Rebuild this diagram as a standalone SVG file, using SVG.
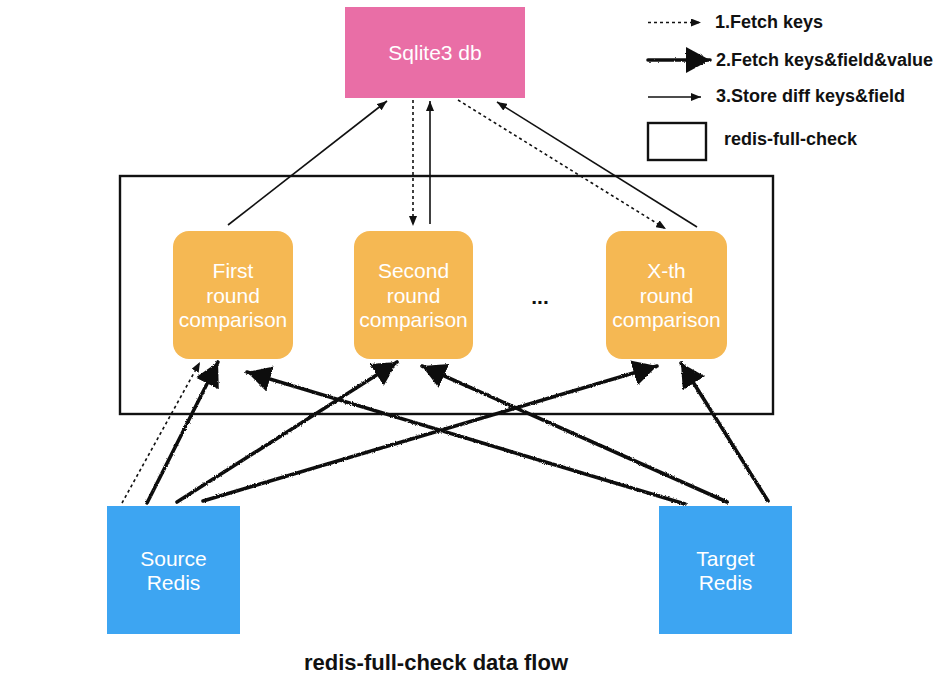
<svg xmlns="http://www.w3.org/2000/svg" width="938" height="680" viewBox="0 0 938 680">
<style>
.lbl{font-family:"Liberation Sans",Arial,sans-serif;font-size:21px;fill:#ffffff;text-anchor:middle}
.leg{font-family:"Liberation Sans",Arial,sans-serif;font-size:18px;font-weight:bold;fill:#111111}
.thin{fill:none;stroke:#111111;stroke-width:1.6}
.dot{fill:none;stroke:#111111;stroke-width:1.6;stroke-dasharray:3,3}
.heavy{fill:none;stroke:#111111;stroke-width:3.6;stroke-linecap:round}
</style>
<defs>
<filter id="rough" filterUnits="userSpaceOnUse" x="0" y="0" width="938" height="680">
<feTurbulence type="fractalNoise" baseFrequency="0.9" numOctaves="2" seed="3" result="n"/>
<feDisplacementMap in="SourceGraphic" in2="n" scale="2.5" xChannelSelector="R" yChannelSelector="G"/>
</filter>
<marker id="ah" viewBox="0 0 10 8" refX="10" refY="4" markerWidth="10" markerHeight="8" markerUnits="userSpaceOnUse" orient="auto">
<path d="M0,0 L10,4 L0,8 z" fill="#111111"/>
</marker>
<marker id="hh" viewBox="0 0 24 26" refX="24" refY="13" markerWidth="24" markerHeight="26" markerUnits="userSpaceOnUse" orient="auto">
<path d="M0,0 L24,13 L0,26 z" fill="#111111"/>
</marker>
</defs>
<rect id="container" x="120" y="176" width="653" height="238" fill="none" stroke="#111111" stroke-width="2.4"/>
<g id="sqlite">
<rect x="345" y="7" width="180" height="91" fill="#E96EA6"/>
<text class="lbl" x="435" y="60">Sqlite3 db</text>
</g>
<g id="first">
<rect x="173" y="231" width="120" height="128" rx="16" fill="#F5B853"/>
<text class="lbl" x="233" y="278">First</text>
<text class="lbl" x="233" y="303">round</text>
<text class="lbl" x="233" y="327">comparison</text>
</g>
<g id="second">
<rect x="354" y="231" width="119" height="128" rx="16" fill="#F5B853"/>
<text class="lbl" x="413.5" y="278">Second</text>
<text class="lbl" x="413.5" y="303">round</text>
<text class="lbl" x="413.5" y="327">comparison</text>
</g>
<text id="ellipsis" x="540" y="304" font-family="Liberation Sans,Arial,sans-serif" font-size="21" font-weight="bold" fill="#111111" text-anchor="middle">...</text>
<g id="xth">
<rect x="606" y="231" width="121" height="128" rx="16" fill="#F5B853"/>
<text class="lbl" x="666.5" y="278">X-th</text>
<text class="lbl" x="666.5" y="303">round</text>
<text class="lbl" x="666.5" y="327">comparison</text>
</g>
<g id="source">
<rect x="107" y="506" width="133" height="128" fill="#3DA5F2"/>
<text class="lbl" x="173.5" y="566">Source</text>
<text class="lbl" x="173.5" y="590">Redis</text>
</g>
<g id="target">
<rect x="659" y="506" width="133" height="128" fill="#3DA5F2"/>
<text class="lbl" x="725.5" y="566">Target</text>
<text class="lbl" x="725.5" y="590">Redis</text>
</g>
<g id="connectors">
<path class="thin" d="M228,225 L387,101" marker-end="url(#ah)"/>
<path class="dot" d="M413,100 L413,226" marker-end="url(#ah)"/>
<path class="thin" d="M430,224 L430,101" marker-end="url(#ah)"/>
<path class="dot" d="M458,100 L666,229" marker-end="url(#ah)"/>
<path class="thin" d="M697,227 L497,102" marker-end="url(#ah)"/>
<path class="dot" d="M122,503 L200,362" marker-end="url(#ah)"/>
<g filter="url(#rough)">
<path class="heavy" d="M147,503 L218,362" marker-end="url(#hh)"/>
<path class="heavy" d="M177,502 L397,362" marker-end="url(#hh)"/>
<path class="heavy" d="M203,501 L657,366" marker-end="url(#hh)"/>
<path class="heavy" d="M685,504 L247,372" marker-end="url(#hh)"/>
<path class="heavy" d="M727,502 L422,366" marker-end="url(#hh)"/>
<path class="heavy" d="M768,501 L681,363" marker-end="url(#hh)"/>
</g>
</g>
<g id="legend">
<path class="dot" d="M648,22.5 L701,22.5" marker-end="url(#ah)"/>
<text class="leg" x="715" y="28">1.Fetch keys</text>
<g filter="url(#rough)">
<path class="heavy" d="M648,60 L710,60" marker-end="url(#hh)"/>
</g>
<text class="leg" x="716" y="66">2.Fetch keys&amp;field&amp;value</text>
<path class="thin" d="M648,97 L701,97" marker-end="url(#ah)"/>
<text class="leg" x="716" y="102">3.Store diff keys&amp;field</text>
<rect x="648" y="123" width="58" height="37" fill="none" stroke="#111111" stroke-width="2.4"/>
<text class="leg" x="724" y="145">redis-full-check</text>
</g>
<text id="title" x="436" y="670" font-family="Liberation Sans,Arial,sans-serif" font-size="22" font-weight="bold" fill="#111111" text-anchor="middle">redis-full-check data flow</text>
</svg>
